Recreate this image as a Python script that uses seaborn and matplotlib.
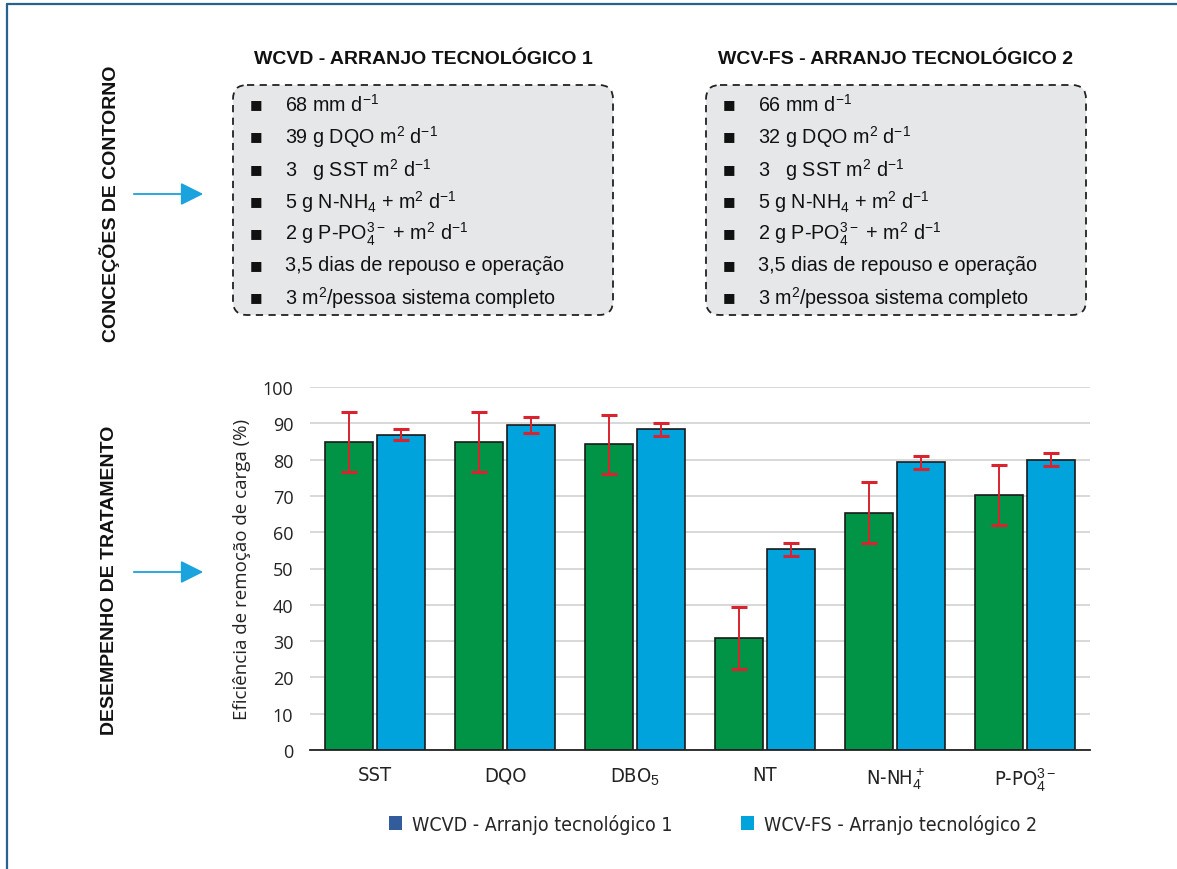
import pandas as pd
import seaborn as sns
import matplotlib.pyplot as plt
from matplotlib.patches import FancyBboxPatch, Patch

# dados
categorias = ["SST", "DQO", "DBO$_5$", "NT", "N-NH$_4^+$", "P-PO$_4^{3-}$"]
series = ["WCVD - Arranjo tecnológico 1", "WCV-FS - Arranjo tecnológico 2"]
wcvd_media = [84.8, 84.9, 84.2, 30.9, 65.4, 70.3]
wcvd_erro = [8.3, 8.2, 8.1, 8.5, 8.5, 8.3]
wcvfs_media = [86.9, 89.5, 88.3, 55.3, 79.3, 79.9]
wcvfs_erro = [1.5, 2.1, 1.8, 1.8, 1.8, 1.8]

titulo1 = "WCVD - ARRANJO TECNOLÓGICO 1"
itens1 = ["68 mm d$^{-1}$", "39 g DQO m$^2$ d$^{-1}$", "3   g SST m$^2$ d$^{-1}$",
          "5 g N-NH$_4$ + m$^2$ d$^{-1}$", "2 g P-PO$_4^{3-}$ + m$^2$ d$^{-1}$",
          "3,5 dias de repouso e operação", "3 m$^2$/pessoa sistema completo"]
titulo2 = "WCV-FS - ARRANJO TECNOLÓGICO 2"
itens2 = ["66 mm d$^{-1}$", "32 g DQO m$^2$ d$^{-1}$", "3   g SST m$^2$ d$^{-1}$",
          "5 g N-NH$_4$ + m$^2$ d$^{-1}$", "2 g P-PO$_4^{3-}$ + m$^2$ d$^{-1}$",
          "3,5 dias de repouso e operação", "3 m$^2$/pessoa sistema completo"]

verde = "#019446"
azul = "#00A3DC"
azul_leg = "#335C9C"
vermelho = "#D9232E"

sns.set_style("white")
plt.rcParams['font.family'] = ['Liberation Sans', 'DejaVu Sans']
plt.rcParams['mathtext.fontset'] = 'custom'
plt.rcParams['mathtext.rm'] = 'Liberation Sans'
plt.rcParams['mathtext.it'] = 'Liberation Sans:italic'
plt.rcParams['mathtext.bf'] = 'Liberation Sans:bold'

W, H = 1177, 870
fig = plt.figure(figsize=(W / 100, H / 100), dpi=100)

# camada de fundo em pixels
bg = fig.add_axes([0, 0, 1, 1], zorder=0)
bg.set_xlim(0, W)
bg.set_ylim(H, 0)
bg.axis("off")

bg.plot([7, 7], [H, 5], color="#25628F", lw=1.6)
bg.plot([7, W], [5, 5], color="#25628F", lw=1.6)

for x0, titulo, itens in [(233, titulo1, itens1), (706, titulo2, itens2)]:
    r = 14
    caixa = FancyBboxPatch((x0 + r, 86 + r), 380 - 2 * r, 230 - 2 * r,
                           boxstyle=f"round,pad={r}", facecolor="#E6E7E8",
                           edgecolor="#222222", lw=1.3, linestyle=(0, (4, 3)))
    bg.add_patch(caixa)
    bg.text(x0 + 190, 60, titulo, ha="center", va="center",
            fontsize=14, fontweight="bold", color="#111111")
    for y, txt in zip([105, 137, 170, 202, 234, 266, 298], itens):
        bg.text(x0 + 23, y, "■", ha="center", va="center", fontsize=9.5,
                family=["DejaVu Sans"], color="#111111")
        bg.text(x0 + 52, y, txt, ha="left", va="center", fontsize=14.2,
                color="#111111")

bg.text(110, 204, "CONCEÇÕES DE CONTORNO", rotation=90, ha="center",
        va="center", fontsize=14, fontweight="bold", color="#111111")
bg.text(110, 580, "DESEMPENHO DE TRATAMENTO", rotation=90, ha="center",
        va="center", fontsize=14, fontweight="bold", color="#111111")
for y in [195, 573]:
    bg.annotate("", xy=(206, y), xytext=(131, y),
                arrowprops=dict(arrowstyle="-|>,head_length=0.7,head_width=0.35",
                                color="#1AA3DD", lw=1.3, mutation_scale=20))

# grafico de barras
ax = fig.add_axes([310 / W, 1 - 751 / H, 780 / W, 363 / H], zorder=1)
ax.patch.set_alpha(0)

df = pd.DataFrame({
    "Parâmetro": categorias * 2,
    "Série": [series[0]] * len(categorias) + [series[1]] * len(categorias),
    "Eficiência": wcvd_media + wcvfs_media,
})
sns.barplot(data=df, x="Parâmetro", y="Eficiência", hue="Série",
            palette=[verde, azul], saturation=1, width=0.8, gap=0.06,
            errorbar=None, edgecolor="#1A1A1A", linewidth=1.2, legend=False,
            ax=ax)

for cont, erros in zip(ax.containers, [wcvd_erro, wcvfs_erro]):
    xs = [p.get_x() + p.get_width() / 2 for p in cont.patches]
    ys = [p.get_height() for p in cont.patches]
    ax.errorbar(xs, ys, yerr=erros, fmt="none", ecolor=vermelho,
                elinewidth=1.4, capsize=6, capthick=2.2, zorder=5)

ax.set_ylim(0, 100)
ax.set_xlim(-0.5, len(categorias) - 0.5)
ax.set_yticks(range(0, 101, 10))
ax.yaxis.grid(True, color="#D6D6D6", lw=1.3)
ax.set_axisbelow(True)
for s in ["left", "right", "top"]:
    ax.spines[s].set_visible(False)
ax.spines["bottom"].set_color("#222222")
ax.spines["bottom"].set_linewidth(1.3)
ax.tick_params(axis="both", length=0)
ax.tick_params(axis="y", pad=12)
ax.tick_params(axis="x", pad=11)
for t in ax.get_yticklabels():
    t.set_family(["Open Sans", "DejaVu Sans"])
    t.set_fontsize(13)
    t.set_color("#222222")
for t in ax.get_xticklabels():
    t.set_family(["DejaVu Sans"])
    t.set_stretch("condensed")
    t.set_fontsize(14.5)
    t.set_color("#222222")
ax.set_xlabel("")
ax.set_ylabel("Eficiência de remoção de carga (%)", fontsize=13.5,
              family=["Open Sans", "DejaVu Sans"], color="#222222", labelpad=8)

handles = [Patch(facecolor=azul_leg, edgecolor="none"),
           Patch(facecolor=azul, edgecolor="none")]
leg = fig.legend(handles, series, loc="center", bbox_to_anchor=(713 / W, 1 - 825 / H),
                 ncol=2, frameon=False, handlelength=0.7, handleheight=0.7,
                 handletextpad=0.5, columnspacing=3.5,
                 prop={"family": "DejaVu Sans", "stretch": "condensed", "size": 14})

fig.savefig("out.png", dpi=100)
